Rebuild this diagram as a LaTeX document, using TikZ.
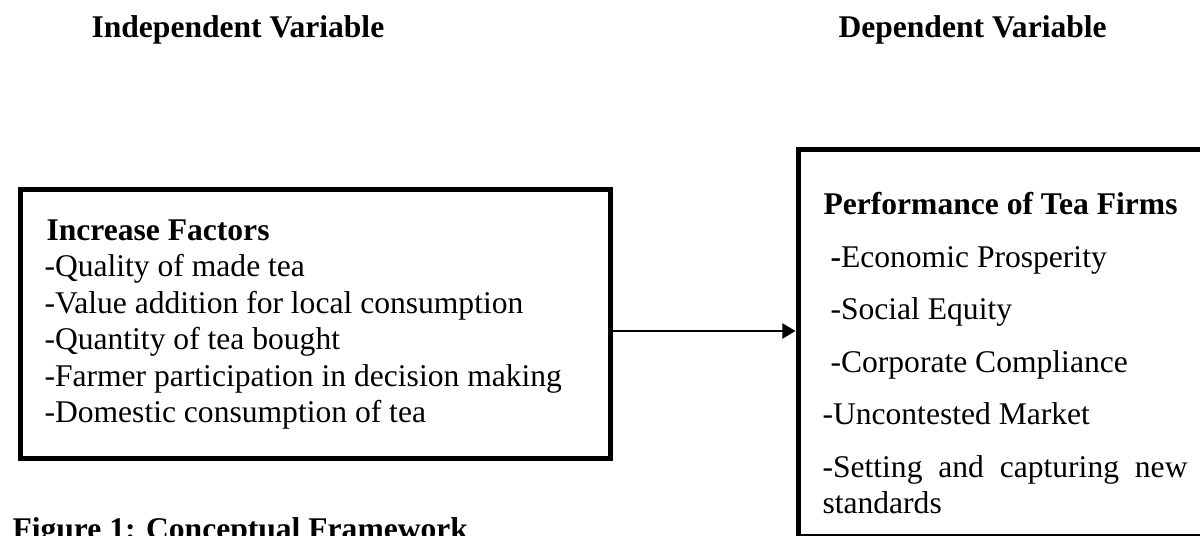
\documentclass[tikz,border=0pt]{standalone}
\usepackage{fontspec}
\setmainfont{Liberation Serif}
\usetikzlibrary{arrows.meta,fit}
\tikzset{
  box/.style={draw, line width=1.9pt, inner sep=0pt},
  txt/.style={anchor=base west, inner sep=0pt, font=\fontsize{12}{13.8}\selectfont},
  hd/.style={txt, font=\fontsize{12}{13.8}\selectfont\bfseries},
  link/.style={line width=1pt, -{Triangle[length=5pt,width=5.7pt]}},
}
\begin{document}
\begin{tikzpicture}[x=0.38pt,y=-0.38pt]
  \useasboundingbox (0,0) rectangle (1200,536);
  \clip (0,0) rectangle (1200,536);
  % titles of the two columns
  \node[hd] (indep) at (91,38) {Independent Variable};
  \node[hd] (dep) at (838,38) {Dependent Variable};
  % boxes
  \node[box, fit={(20,190) (610,458)}] (factors) {};
  \node[box, fit={(798,150) (1215,536.5)}] (perf) {};
  % left box text
  \node[hd] (fhead) at (46,240) {Increase Factors};
  \foreach \t [count=\i] in {-Quality of made tea,
      -Value addition for local consumption,
      -Quantity of tea bought,
      -Farmer participation in decision making,
      -Domestic consumption of tea}
    \node[txt] (f\i) at (44,240+36.5*\i) {\t};
  % right box text
  \node[hd] (phead) at (823,215) {Performance of Tea Firms};
  \node[txt] (p1) at (830,267) {\textbf{-}Economic Prosperity};
  \node[txt] (p2) at (830,319.5) {-Social Equity};
  \node[txt] (p3) at (830,372) {-Corporate Compliance};
  \node[txt] (p4) at (822,424.5) {-Uncontested Market};
  \node[txt] (p5) at (822,477) {\makebox[138.7pt][s]{-Setting and capturing new}};
  \node[txt] (p6) at (822,513.5) {standards};
  % arrow
  \coordinate (out) at (610,331);
  \draw[link] (out) -- (out -| perf.west);
  % caption, cut by the page edge
  \node[hd] (cap) at (12,539) {Figure 1: Conceptual Framework};
\end{tikzpicture}
\end{document}
